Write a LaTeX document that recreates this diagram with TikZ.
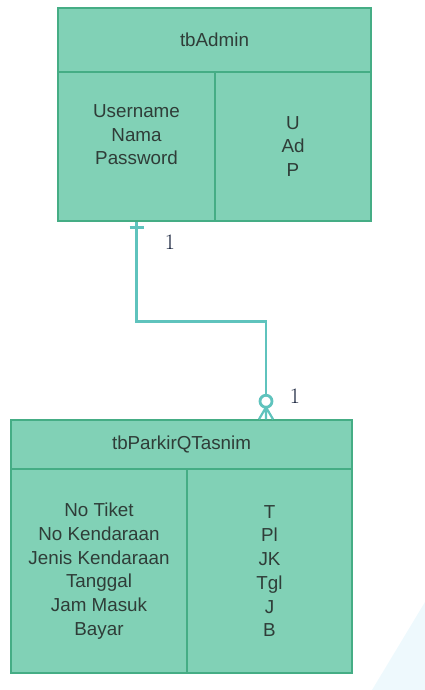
\documentclass[tikz,border=0pt]{standalone}
\usepackage{fontspec}
\setsansfont{Liberation Sans}
\usetikzlibrary{calc}
\definecolor{tabfill}{HTML}{81D1B6}
\definecolor{tabline}{HTML}{45AD85}
\definecolor{tabtext}{HTML}{2F3D38}
\definecolor{relteal}{HTML}{5FC3BD}
\definecolor{cardnavy}{HTML}{15203A}
\definecolor{markblue}{HTML}{EEF9FD}
\tikzset{
  tabcell/.style={draw=tabline, fill=tabfill, line width=1.5pt, inner sep=0pt,
    text=tabtext, font=\sffamily\fontsize{18.8pt}{23.7pt}\selectfont, align=center},
  relline/.style={draw=relteal, line width=2.8pt},
  cardlabel/.style={text=cardnavy, font=\fontsize{22pt}{24pt}\selectfont}
}
\begin{document}
\begin{tikzpicture}[x=1pt, y=-1pt]
		\useasboundingbox (0,0) rectangle (425,690);
		% Tanda latar di pojok kanan bawah
		\fill[markblue] (372,690) -- (425,602) -- (425,690) -- cycle;

		% Tabel tbAdmin
		\node[tabcell, minimum width=313pt, minimum height=64pt] (adminTitle) at (214.5,40) {tbAdmin};
		\node[tabcell, minimum width=157pt, minimum height=149pt] (adminAttr) at (136.5,146.5) {Username\\Nama\\Password\\\mbox{}};
		\node[tabcell, minimum width=156pt, minimum height=149pt] (adminCode) at (293,146.5) {U\\Ad\\P};

		% Tabel tbParkirQTasnim
		\node[tabcell, minimum width=341pt, minimum height=49pt] (parkirTitle) at (181.5,444.5) {tbParkirQTasnim};
		\node[tabcell, minimum width=176pt, minimum height=204pt] (parkirAttr) at (99,571) {No Tiket\\No Kendaraan\\Jenis Kendaraan\\Tanggal\\Jam Masuk\\Bayar};
		\node[tabcell, minimum width=165pt, minimum height=204pt] (parkirCode) at (269.5,571) {T\\Pl\\JK\\Tgl\\J\\B};

		% Relasi satu ke banyak
		\coordinate (relEnd) at ($(parkirCode.north |- parkirTitle.north)+(-3.5,0)$);
		\coordinate (relCircle) at ($(relEnd)+(0,-12)$);
		\draw[relline] (adminAttr.south) -- ++(0,100) -| ($(relCircle)+(0,-12)$);
		\draw[relline] ($(adminAttr.south)+(-7,6)$) -- ++(14,0);
		\draw[relline, line width=2.2pt] (relCircle) -- ($(relEnd)+(-7,0)$)
			(relCircle) -- (relEnd)
			(relCircle) -- ($(relEnd)+(7,0)$);
		\draw[relline, fill=white] ($(relCircle)+(0,-6)$) circle (6);

		% Kardinalitas
		\node[cardlabel] (cardAdmin) at (170,242) {1};
		\node[cardlabel] (cardParkir) at (295,396) {1};
	\end{tikzpicture}
\end{document}
